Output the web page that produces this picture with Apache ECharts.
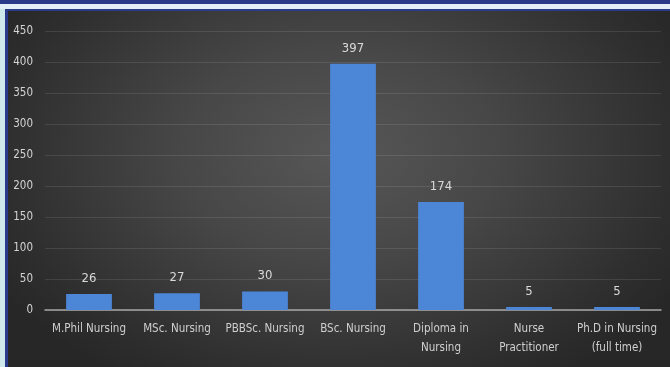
<!DOCTYPE html>
<html>
<head>
<meta charset="utf-8">
<script src="https://cdn.jsdelivr.net/npm/echarts@6/dist/echarts.min.js"></script>
<style>
  html, body { margin: 0; padding: 0; width: 670px; height: 367px; overflow: hidden; background: #cfe8ec; }
  #topband { position: absolute; left: 0; top: 0; width: 670px; height: 4px; background: #2b3a88; }
  #lightband { position: absolute; left: 0; top: 4px; width: 670px; height: 5px; background: #e4eef6; }
  #frame { position: absolute; left: 5px; top: 9px; width: 665px; height: 358px; background: #2c3a8c; }
  #chart { position: absolute; left: 8px; top: 11px; width: 662px; height: 356px;
    background: radial-gradient(ellipse 60% 75% at 50% 40%, #575757 0%, #474747 40%, #2e2e2e 85%, #272727 100%); }
</style>
</head>
<body>
<div id="topband"></div>
<div id="lightband"></div>
<div id="frame"></div>
<div id="chart"></div>
<script>
// Enrolment counts by nursing programme
const categories = [
  'M.Phil Nursing', 'MSc. Nursing', 'PBBSc. Nursing', 'BSc. Nursing',
  'Diploma in\nNursing', 'Nurse\nPractitioner', 'Ph.D in Nursing\n(full time)'
];
const counts = [26, 27, 30, 397, 174, 5, 5];
const yTicks = [0, 50, 100, 150, 200, 250, 300, 350, 400, 450];

const font = '"Liberation Sans Narrow", "DejaVu Sans Condensed", sans-serif';
const chart = echarts.init(document.getElementById('chart'), null, { renderer: 'canvas' });
chart.setOption({
  backgroundColor: 'transparent',
  animation: false,
  grid: { left: 37, right: 9, top: 20, bottom: 57 },
  xAxis: {
    type: 'category',
    data: categories,
    axisLine: { lineStyle: { color: '#a6a6a6', width: 1.5 } },
    axisTick: { show: false },
    axisLabel: { color: '#cfcfcf', fontFamily: font, fontSize: 11.5, lineHeight: 19, margin: 10, interval: 0 }
  },
  yAxis: {
    type: 'value',
    min: yTicks[0],
    max: yTicks[yTicks.length - 1],
    interval: 50,
    axisLine: { show: false },
    axisTick: { show: false },
    axisLabel: { color: '#d4d4d4', fontFamily: font, fontSize: 11.5, margin: 12 },
    splitLine: { lineStyle: { color: 'rgba(255,255,255,0.10)', width: 1 } }
  },
  series: [{
    type: 'bar',
    data: counts,
    barCategoryGap: '48%',
    itemStyle: { color: '#4c86d6' },
    label: {
      show: true,
      position: 'top',
      distance: 9,
      color: '#d9d9d9',
      fontFamily: font,
      fontSize: 13
    }
  }]
});
</script>
</body>
</html>
